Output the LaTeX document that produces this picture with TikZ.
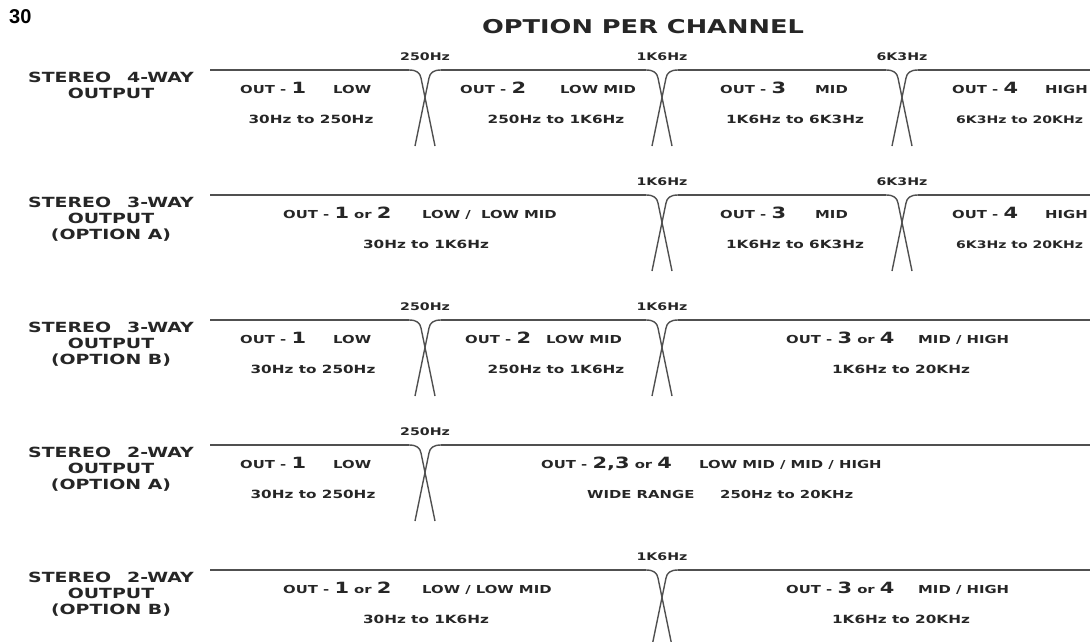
\documentclass[tikz,border=0pt]{standalone}
\usepackage{fontspec}
\usepackage{xcolor}
\usepackage{tikz}
\newfontfamily\widefont{DejaVu Sans}[FakeStretch=1.35]
\newfontfamily\pagefont{Liberation Sans}
\definecolor{ink}{HTML}{262626}
\definecolor{wire}{HTML}{505050}
\newcommand{\chnum}[1]{{\fontsize{15.5}{15.5}\selectfont #1}}

\tikzset{
    xover/.pic={
        \draw[xline] (-16,0) .. controls (-8,0) and (-5,3) .. (-4,8) -- (10,76);
        \draw[xline] (16,0) .. controls (8,0) and (5,3) .. (4,8) -- (-10,76);
    }
}

\begin{document}
\begin{tikzpicture}[
            x=1pt, y=-1pt,
            xline/.style={draw=wire, line width=1.4pt},
            rowlbl/.style={font=\widefont\bfseries\fontsize{14}{16}\selectfont, text=ink, align=center, anchor=north, inner sep=0pt},
            outlbl/.style={font=\widefont\bfseries\fontsize{11}{12}\selectfont, text=ink, anchor=base west, inner sep=0pt},
            rangelbl/.style={font=\widefont\bfseries\fontsize{11.3}{12}\selectfont, text=ink, anchor=base, inner sep=0pt},
            freqlbl/.style={font=\widefont\bfseries\fontsize{10.5}{12}\selectfont, text=ink, anchor=base, inner sep=0pt}
        ]
        \useasboundingbox (0,0) rectangle (1090,641);
        \clip (0,0) rectangle (1090,641);
        % Page number and title
        \node[font=\pagefont\bfseries\fontsize{20}{20}\selectfont, anchor=north west, inner sep=0pt] (pgno) at (9,9) {30};
        \node[font=\widefont\bfseries\fontsize{19}{20}\selectfont, text=ink, anchor=base] (title) at (643,33) {OPTION PER CHANNEL};

        % Row 1: 4-way
        \node[rowlbl] (lbl1) at (111,72) {STEREO\hspace{16pt}4-WAY\\OUTPUT};
        \coordinate (s1) at (210,70);
        \coordinate (c11) at (425,70);
        \coordinate (c12) at (662,70);
        \coordinate (c13) at (902,70);
        \coordinate (e1) at (1092,70);
        \draw[xline] (s1) -- ([xshift=-16pt]c11);
        \draw[xline] ([xshift=16pt]c11) -- ([xshift=-16pt]c12);
        \draw[xline] ([xshift=16pt]c12) -- ([xshift=-16pt]c13);
        \draw[xline] ([xshift=16pt]c13) -- (e1);
        \pic at (c11) {xover};
        \pic at (c12) {xover};
        \pic at (c13) {xover};
        \node[freqlbl] (f11) at (425,60) {250Hz};
        \node[freqlbl] (f12) at (662,60) {1K6Hz};
        \node[freqlbl] (f13) at (902,60) {6K3Hz};
        \node[outlbl] (o11) at (240,93) {OUT - \chnum{1}};
        \node[outlbl] (b11) at (333,93) {LOW};
        \node[rangelbl] (r11) at (311,123) {30Hz to 250Hz};
        \node[outlbl] (o12) at (460,93) {OUT - \chnum{2}};
        \node[outlbl] (b12) at (560,93) {LOW MID};
        \node[rangelbl] (r12) at (556,123) {250Hz to 1K6Hz};
        \node[outlbl] (o13) at (720,93) {OUT - \chnum{3}};
        \node[outlbl] (b13) at (815,93) {MID};
        \node[rangelbl] (r13) at (795,123) {1K6Hz to 6K3Hz};
        \node[outlbl] (o14) at (952,93) {OUT - \chnum{4}};
        \node[outlbl] (b14) at (1045,93) {HIGH};
        \node[rangelbl, anchor=base west, font=\widefont\bfseries\fontsize{10.4}{12}\selectfont] (r14) at (956,123) {6K3Hz to 20KHz};

        % Row 2: 3-way option A
        \node[rowlbl] (lbl2) at (111,197) {STEREO\hspace{16pt}3-WAY\\OUTPUT\\(OPTION A)};
        \coordinate (s2) at (210,195);
        \coordinate (c22) at (662,195);
        \coordinate (c23) at (902,195);
        \coordinate (e2) at (1092,195);
        \draw[xline] (s2) -- ([xshift=-16pt]c22);
        \draw[xline] ([xshift=16pt]c22) -- ([xshift=-16pt]c23);
        \draw[xline] ([xshift=16pt]c23) -- (e2);
        \pic at (c22) {xover};
        \pic at (c23) {xover};
        \node[freqlbl] (f22) at (662,185) {1K6Hz};
        \node[freqlbl] (f23) at (902,185) {6K3Hz};
        \node[outlbl] (o21) at (283,218) {OUT - \chnum{1} or \chnum{2}};
        \node[outlbl] (b21) at (422,218) {LOW /\ \ LOW MID};
        \node[rangelbl] (r21) at (426,248) {30Hz to 1K6Hz};
        \node[outlbl] (o23) at (720,218) {OUT - \chnum{3}};
        \node[outlbl] (b23) at (815,218) {MID};
        \node[rangelbl] (r23) at (795,248) {1K6Hz to 6K3Hz};
        \node[outlbl] (o24) at (952,218) {OUT - \chnum{4}};
        \node[outlbl] (b24) at (1045,218) {HIGH};
        \node[rangelbl, anchor=base west, font=\widefont\bfseries\fontsize{10.4}{12}\selectfont] (r24) at (956,248) {6K3Hz to 20KHz};

        % Row 3: 3-way option B
        \node[rowlbl] (lbl3) at (111,322) {STEREO\hspace{16pt}3-WAY\\OUTPUT\\(OPTION B)};
        \coordinate (s3) at (210,320);
        \coordinate (c31) at (425,320);
        \coordinate (c32) at (662,320);
        \coordinate (e3) at (1092,320);
        \draw[xline] (s3) -- ([xshift=-16pt]c31);
        \draw[xline] ([xshift=16pt]c31) -- ([xshift=-16pt]c32);
        \draw[xline] ([xshift=16pt]c32) -- (e3);
        \pic at (c31) {xover};
        \pic at (c32) {xover};
        \node[freqlbl] (f31) at (425,310) {250Hz};
        \node[freqlbl] (f32) at (662,310) {1K6Hz};
        \node[outlbl] (o31) at (240,343) {OUT - \chnum{1}};
        \node[outlbl] (b31) at (333,343) {LOW};
        \node[rangelbl] (r31) at (313,373) {30Hz to 250Hz};
        \node[outlbl] (o32) at (465,343) {OUT - \chnum{2}};
        \node[outlbl] (b32) at (546,343) {LOW MID};
        \node[rangelbl] (r32) at (556,373) {250Hz to 1K6Hz};
        \node[outlbl] (o33) at (786,343) {OUT - \chnum{3} or \chnum{4}};
        \node[outlbl] (b33) at (918,343) {MID / HIGH};
        \node[rangelbl] (r33) at (901,373) {1K6Hz to 20KHz};

        % Row 4: 2-way option A
        \node[rowlbl] (lbl4) at (111,447) {STEREO\hspace{16pt}2-WAY\\OUTPUT\\(OPTION A)};
        \coordinate (s4) at (210,445);
        \coordinate (c41) at (425,445);
        \coordinate (e4) at (1092,445);
        \draw[xline] (s4) -- ([xshift=-16pt]c41);
        \draw[xline] ([xshift=16pt]c41) -- (e4);
        \pic at (c41) {xover};
        \node[freqlbl] (f41) at (425,435) {250Hz};
        \node[outlbl] (o41) at (240,468) {OUT - \chnum{1}};
        \node[outlbl] (b41) at (333,468) {LOW};
        \node[rangelbl] (r41) at (313,498) {30Hz to 250Hz};
        \node[outlbl] (o42) at (541,468) {OUT - \chnum{2,3} or \chnum{4}};
        \node[outlbl] (b42) at (699,468) {LOW MID / MID / HIGH};
        \node[outlbl] (w42) at (587,498) {WIDE RANGE};
        \node[outlbl] (r42) at (720,498) {250Hz to 20KHz};

        % Row 5: 2-way option B
        \node[rowlbl] (lbl5) at (111,572) {STEREO\hspace{16pt}2-WAY\\OUTPUT\\(OPTION B)};
        \coordinate (s5) at (210,570);
        \coordinate (c52) at (662,570);
        \coordinate (e5) at (1092,570);
        \draw[xline] (s5) -- ([xshift=-16pt]c52);
        \draw[xline] ([xshift=16pt]c52) -- (e5);
        \pic at (c52) {xover};
        \node[freqlbl] (f52) at (662,560) {1K6Hz};
        \node[outlbl] (o51) at (283,593) {OUT - \chnum{1} or \chnum{2}};
        \node[outlbl] (b51) at (422,593) {LOW / LOW MID};
        \node[rangelbl] (r51) at (426,623) {30Hz to 1K6Hz};
        \node[outlbl] (o53) at (786,593) {OUT - \chnum{3} or \chnum{4}};
        \node[outlbl] (b53) at (918,593) {MID / HIGH};
        \node[rangelbl] (r53) at (901,623) {1K6Hz to 20KHz};
    \end{tikzpicture}
\end{document}
